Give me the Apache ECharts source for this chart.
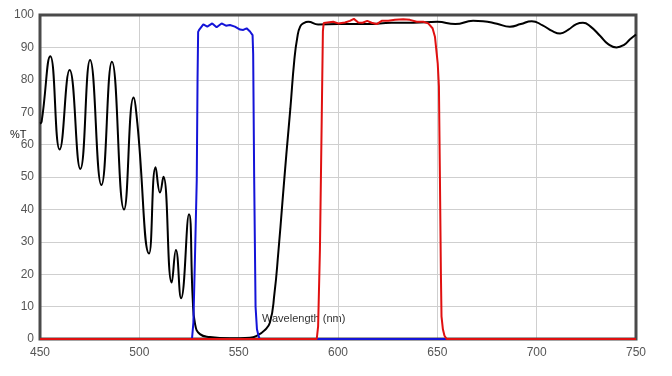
<!DOCTYPE html>
<html>
<head>
<meta charset="utf-8">
<script src="https://cdn.jsdelivr.net/npm/echarts@6/dist/echarts.min.js"></script>
<style>
html,body{margin:0;padding:0;background:#fff;}
#chart{width:672px;height:376px;}
</style>
</head>
<body>
<div id="chart"></div>
<script>
// Wavelength (nm) and %T for each trace
var blackWl = [450, 450.8, 455.2, 459.9, 464.9, 470.3, 475.2, 480.9, 486.2, 492.3, 497.1, 499, 504.9, 508.2, 510.4, 512.1, 516.3, 518.4, 521, 525, 526.9, 528, 530.5, 535.5, 545.6, 555.7, 559.7, 562.7, 565.7, 568, 570, 572, 574, 576, 578, 579.5, 581, 583, 585, 590, 600, 615, 627, 638, 650, 659, 668, 673, 680, 686.5, 692, 697.5, 703, 708, 711.8, 716, 720, 723.3, 727, 732, 736, 740.2, 744, 747, 750];
var blackT  = [66.5, 67, 87.3, 58.5, 83, 52.5, 86.1, 47.5, 85.6, 40, 74.5, 66.6, 26.4, 53, 45.2, 50.1, 17.4, 27.5, 12.6, 38.5, 12, 4.8, 1.5, 0.6, 0.2, 0.4, 1.2, 2.5, 5, 14, 27, 42, 57, 71, 86, 93, 96.5, 97.6, 97.9, 97.1, 97.2, 97.2, 97.6, 97.6, 97.9, 97.2, 98.2, 98.1, 97.3, 96.4, 97.2, 98.1, 96.8, 95, 94.3, 95.5, 97.2, 97.6, 96.5, 93.5, 91, 90, 90.8, 92.5, 94];

var blueWl = [450, 526.5, 527.2, 528, 528.9, 529.3, 529.6, 530.2, 532.2, 534.2, 536.7, 538.9, 541.4, 543.6, 545.6, 548.1, 550.7, 552.3, 554, 555.7, 557, 557.3, 557.8, 558.5, 559.2, 560, 560.6, 750];
var blueT  = [0, 0, 5, 25, 49, 80, 94.8, 95.5, 97.1, 96.4, 97.4, 96.2, 97.4, 96.7, 96.9, 96.4, 95.5, 95.4, 95.9, 94.9, 93.8, 88, 50, 10, 3, 1, 0, 0];

var redWl = [450, 589.3, 590, 590.9, 591.8, 592.4, 592.8, 597.6, 600.1, 603.5, 606, 608, 610.2, 612.4, 614.7, 616.9, 619.5, 622, 625.3, 628.7, 632.8, 636.2, 639.6, 642.9, 645.4, 647.6, 648.8, 649.6, 650.2, 650.8, 651.3, 651.8, 652.1, 652.8, 653.6, 654.7, 750];
var redT  = [0, 0, 4, 27.5, 67.6, 95, 97.5, 97.9, 97.4, 97.7, 98.2, 98.8, 97.7, 97.6, 98.2, 97.6, 97.2, 98.2, 98.2, 98.5, 98.7, 98.5, 97.9, 97.9, 97.4, 95.9, 93.3, 92.8, 85, 78, 50, 20, 7, 3, 1, 0, 0];

var xTicks = [450, 500, 550, 600, 650, 700, 750];
var yTicks = [0, 10, 20, 30, 40, 50, 60, 70, 80, 90, 100];

function zip(a, b) { return a.map(function (v, i) { return [v, b[i]]; }); }

var chart = echarts.init(document.getElementById('chart'), null, {renderer: 'canvas'});
var G = {left: 40, top: 15, width: 596, height: 324};
chart.setOption({
  animation: false,
  backgroundColor: '#fff',
  grid: {left: G.left, top: G.top, width: G.width, height: G.height, show: false},
  xAxis: {
    type: 'value', min: xTicks[0], max: xTicks[xTicks.length - 1], interval: 50,
    axisLine: {show: false}, axisTick: {show: false},
    axisLabel: {color: '#555', fontSize: 12, fontFamily: 'Liberation Sans, Arial, sans-serif', margin: 8},
    splitLine: {show: true, lineStyle: {color: '#cfcfcf', width: 1}}
  },
  yAxis: {
    type: 'value', min: yTicks[0], max: yTicks[yTicks.length - 1], interval: 10,
    axisLine: {show: false}, axisTick: {show: false},
    axisLabel: {color: '#555', fontSize: 12, fontFamily: 'Liberation Sans, Arial, sans-serif', margin: 6},
    splitLine: {show: true, lineStyle: {color: '#cfcfcf', width: 1}}
  },
  graphic: [
    {type: 'rect', z: 1, silent: true, shape: {x: G.left, y: G.top, width: G.width, height: G.height}, style: {fill: 'none', stroke: '#4a4a4a', lineWidth: 3}},
    {type: 'text', left: 10, top: 129, style: {text: '%T', fill: '#222', font: '11px Liberation Sans, Arial, sans-serif'}},
    {type: 'text', left: 262, top: 313, style: {text: 'Wavelength (nm)', fill: '#333', font: '11px Liberation Sans, Arial, sans-serif'}}
  ],
  series: [
    {type: 'line', data: zip(blackWl, blackT), smooth: 0.5, symbol: 'none', lineStyle: {color: '#000', width: 2}, z: 3},
    {type: 'line', data: zip(blueWl, blueT), smooth: false, symbol: 'none', lineStyle: {color: '#1414d8', width: 2}, z: 4},
    {type: 'line', data: zip(redWl, redT), smooth: false, symbol: 'none', lineStyle: {color: '#e01010', width: 2}, z: 5}
  ]
});
</script>
</body>
</html>
